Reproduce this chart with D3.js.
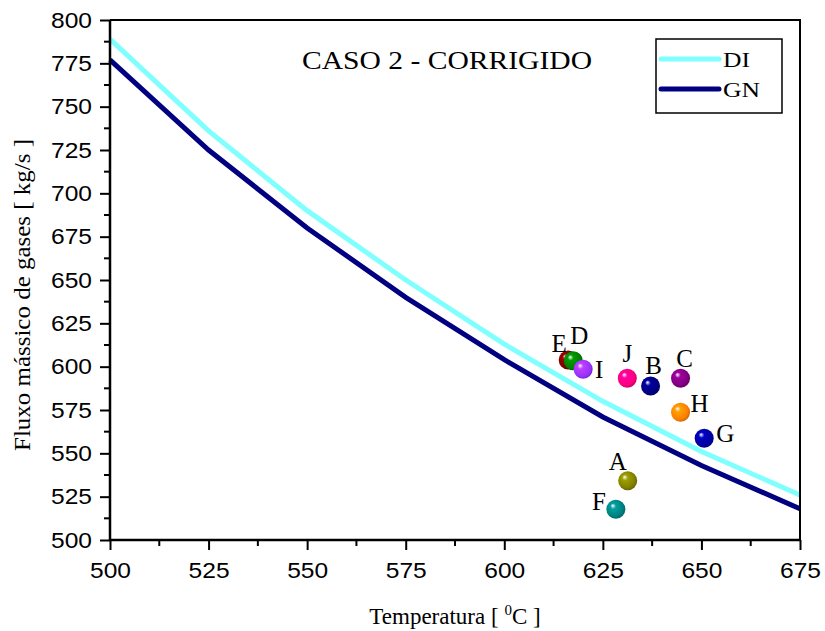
<!DOCTYPE html>
<html>
<head>
<meta charset="utf-8">
<script src="https://cdn.jsdelivr.net/npm/d3@7"></script>
<style>
  body { margin: 0; background: #fff; }
  .tick text { font-family: "Liberation Sans", Arial, sans-serif; font-size: 22px; fill: #000; }
  .serif { font-family: "Liberation Serif", "Times New Roman", serif; fill: #000; }
</style>
</head>
<body>
<div id="chart"></div>
<script>
// temperature grid for both curves
var temps = [500, 525, 550, 575, 600, 625, 650, 675];
var fluxoDI = [789, 736, 690, 650, 613, 580, 551, 526];
var fluxoGN = [777, 725, 680, 640, 604, 571, 543, 518];

// measured cases
var caseNames = ["E", "D", "I", "J", "B", "C", "H", "G", "A", "F"];
var caseTemps = [616.2, 617.5, 620.0, 631.2, 637.1, 644.7, 644.7, 650.7, 631.3, 628.3];
var caseFlux  = [603.8, 603.4, 598.5, 593.3, 588.8, 593.3, 573.7, 558.7, 534.2, 517.7];

var xTicks = [500, 525, 550, 575, 600, 625, 650, 675];
var yTicks = [500, 525, 550, 575, 600, 625, 650, 675, 700, 725, 750, 775, 800];

var caseColors = {E: "#800000", D: "#008000", I: "#9933ff", J: "#ff0080", B: "#000080",
                  C: "#800080", H: "#ff8000", G: "#0000a0", A: "#808000", F: "#008080"};
// label offset from sphere centre (px)
var labelOff = {E: [-9, -17], D: [6, -26], I: [16, 0], J: [0, -25], B: [3, -21],
                C: [4, -20], H: [19, -9], G: [21, -5], A: [-10, -19], F: [-17, -8]};

var W = 825, H = 631;
var margin = {top: 20, right: 25, bottom: 91, left: 110};

var svg = d3.select("#chart").append("svg")
    .attr("width", W).attr("height", H);

var x = d3.scaleLinear().domain([500, 675]).range([margin.left, W - margin.right]);
var y = d3.scaleLinear().domain([500, 800]).range([H - margin.bottom, margin.top]);

var defs = svg.append("defs");
caseNames.forEach(function(n) {
    var c = d3.color(caseColors[n]);
    var g = defs.append("radialGradient").attr("id", "g" + n)
        .attr("cx", "0.45").attr("cy", "0.45").attr("r", "0.6")
        .attr("fx", "0.33").attr("fy", "0.3");
    g.append("stop").attr("offset", "0%").attr("stop-color", "#ffffff");
    g.append("stop").attr("offset", "25%").attr("stop-color", c.brighter(0.6));
    g.append("stop").attr("offset", "75%").attr("stop-color", c);
    g.append("stop").attr("offset", "100%").attr("stop-color", c.darker(0.8));
});

// curves
var line = d3.line().x(function(d) { return x(d[0]); }).y(function(d) { return y(d[1]); });
svg.append("path").datum(temps.map(function(t, i) { return [t, fluxoDI[i]]; }))
    .attr("d", line).attr("fill", "none").attr("stroke", "#80ffff").attr("stroke-width", 5);
svg.append("path").datum(temps.map(function(t, i) { return [t, fluxoGN[i]]; }))
    .attr("d", line).attr("fill", "none").attr("stroke", "#000080").attr("stroke-width", 5);

// frame (top, right)
svg.append("path")
    .attr("d", "M" + x(500) + "," + y(800) + "H" + x(675) + "V" + y(500))
    .attr("fill", "none").attr("stroke", "#000").attr("stroke-width", 2);

// axes
var xAxis = svg.append("g").attr("transform", "translate(0," + y(500) + ")")
    .call(d3.axisBottom(x).tickValues(xTicks).tickSize(10).tickPadding(12));
xAxis.append("g").selectAll("line").data(d3.range(512.5, 675, 25)).enter().append("line")
    .attr("x1", function(d) { return x(d); }).attr("x2", function(d) { return x(d); })
    .attr("y1", 0).attr("y2", 6).attr("stroke", "#000").attr("stroke-width", 2);

var yAxis = svg.append("g").attr("transform", "translate(" + x(500) + ",0)")
    .call(d3.axisLeft(y).tickValues(yTicks).tickSize(10).tickPadding(8));
yAxis.append("g").selectAll("line").data(d3.range(512.5, 800, 25)).enter().append("line")
    .attr("y1", function(d) { return y(d); }).attr("y2", function(d) { return y(d); })
    .attr("x1", 0).attr("x2", -6).attr("stroke", "#000").attr("stroke-width", 2);

svg.selectAll(".domain").attr("stroke-width", 2.5);
xAxis.select(".domain").attr("d", "M" + x(500) + ",0H" + x(675));
yAxis.select(".domain").attr("d", "M0," + y(500) + "V" + y(800));
svg.selectAll(".tick line").attr("stroke-width", 2);
// the original type is drawn a bit wide
svg.selectAll(".tick text").attr("textLength", 41).attr("lengthAdjust", "spacingAndGlyphs");

// spheres
var pts = svg.append("g").selectAll("g").data(caseNames).enter().append("g")
    .attr("transform", function(d, i) { return "translate(" + x(caseTemps[i]) + "," + y(caseFlux[i]) + ")"; });
pts.append("circle").attr("r", 9.5).attr("fill", function(d) { return "url(#g" + d + ")"; });
pts.append("text").attr("class", "serif")
    .attr("x", function(d) { return labelOff[d][0]; })
    .attr("y", function(d) { return labelOff[d][1]; })
    .attr("dy", "0.35em").attr("text-anchor", "middle")
    .style("font-size", "25px")
    .text(function(d) { return d; });

// title
svg.append("text").attr("class", "serif").attr("x", 447).attr("y", 69)
    .attr("text-anchor", "middle").style("font-size", "26px")
    .attr("textLength", 290).attr("lengthAdjust", "spacingAndGlyphs")
    .text("CASO 2 - CORRIGIDO");

// legend
var leg = svg.append("g");
leg.append("rect").attr("x", 656).attr("y", 39).attr("width", 126).attr("height", 74)
    .attr("fill", "#fff").attr("stroke", "#000").attr("stroke-width", 1.5);
[["DI", "#80ffff", 59, 27], ["GN", "#000080", 89, 37]].forEach(function(s) {
    leg.append("line").attr("x1", 661).attr("x2", 719).attr("y1", s[2]).attr("y2", s[2])
        .attr("stroke", s[1]).attr("stroke-width", 5).attr("stroke-linecap", "round");
    leg.append("text").attr("class", "serif").attr("x", 723).attr("y", s[2]).attr("dy", "0.35em")
        .style("font-size", "22px")
        .attr("textLength", s[3]).attr("lengthAdjust", "spacingAndGlyphs")
        .text(s[0]);
});

// axis titles
var xt = svg.append("text").attr("class", "serif").attr("x", 455).attr("y", 624)
    .attr("text-anchor", "middle").style("font-size", "23px");
xt.append("tspan").text("Temperatura [ ");
xt.append("tspan").attr("dy", -9).style("font-size", "15px").text("0");
xt.append("tspan").attr("dy", 9).text("C ]");

svg.append("text").attr("class", "serif")
    .attr("transform", "translate(30,295) rotate(-90)")
    .attr("text-anchor", "middle").style("font-size", "23px")
    .attr("textLength", 312).attr("lengthAdjust", "spacingAndGlyphs")
    .text("Fluxo mássico de gases [ kg/s ]");
</script>
</body>
</html>
